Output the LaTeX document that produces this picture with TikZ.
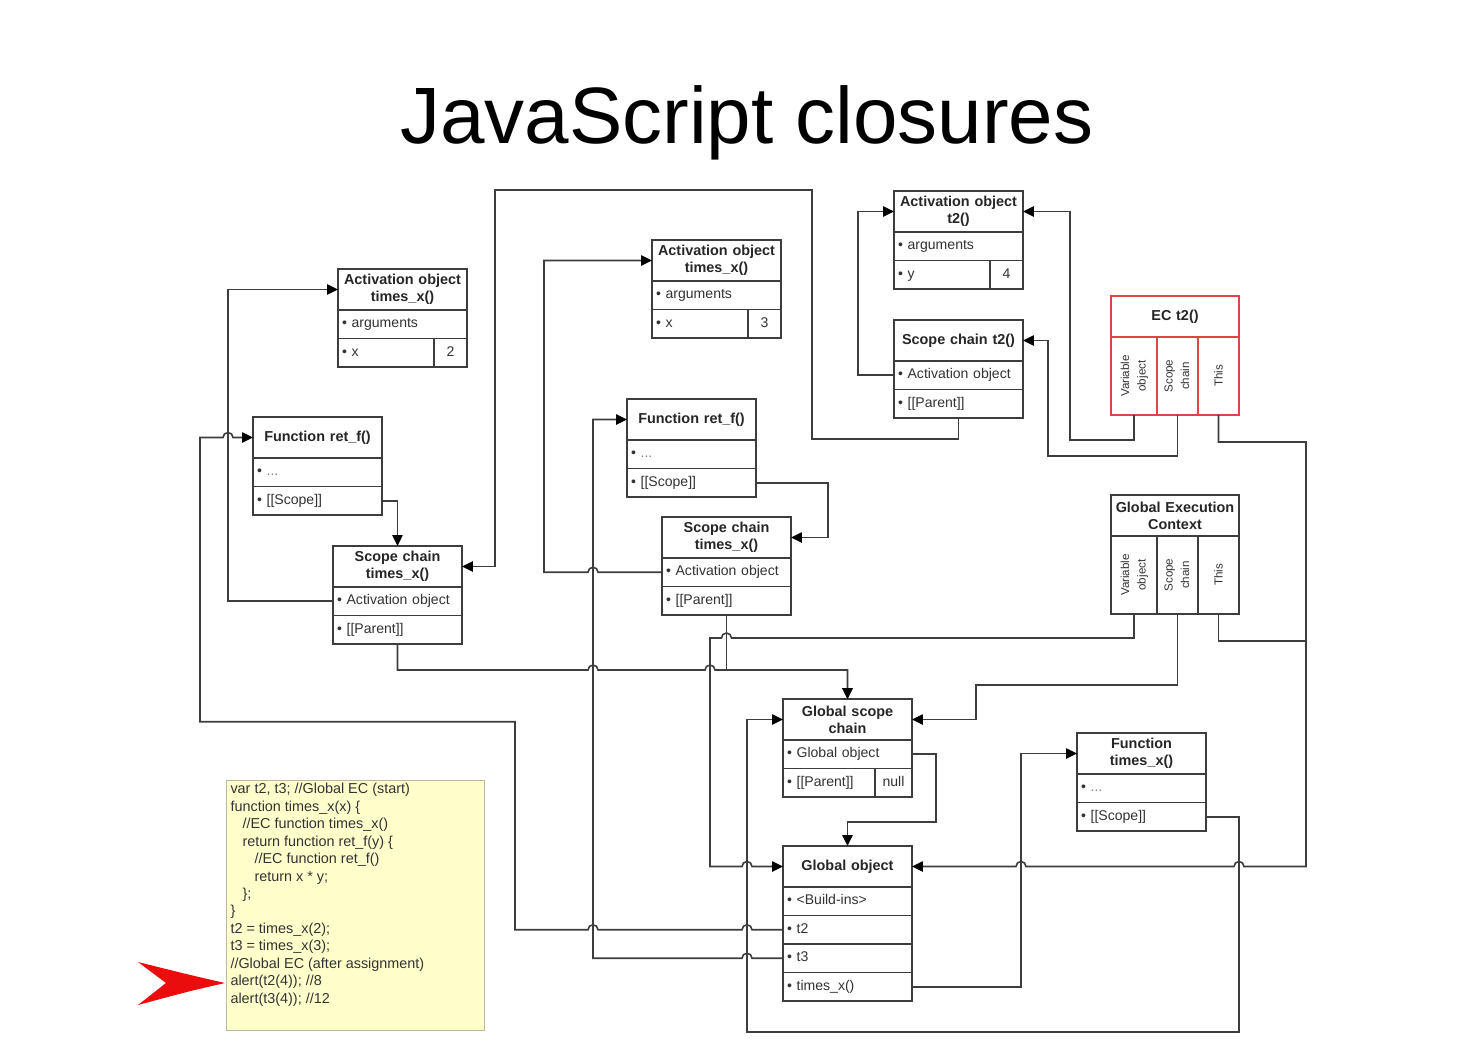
\documentclass[tikz,border=0pt]{standalone}
\usepackage{fontspec}
\setmainfont{Liberation Sans}
\newfontfamily\titlefont{Liberation Sans}
\usepackage{graphicx}
\usepackage{xcolor}
\usepackage{tikz}
\usetikzlibrary{arrows.meta,positioning,calc}
\definecolor{linecolor}{rgb}{0.24,0.24,0.24}
\definecolor{txtcolor}{rgb}{0.2,0.2,0.2}
\definecolor{ecred}{rgb}{0.88,0.27,0.27}
\definecolor{codefill}{rgb}{1.0,1.0,0.80}
\definecolor{codeline}{rgb}{0.72,0.72,0.64}
\definecolor{arrowred}{rgb}{0.92,0.05,0.05}
\newcommand{\hdrfont}{\fontsize{8.2}{9.6}\selectfont\bfseries}
\newcommand{\rowfont}{\fontsize{8}{9.6}\selectfont}
\newcommand{\colfont}{\fontsize{6.6}{9.4}\selectfont}
\newcommand{\codefont}{\fontsize{8.2}{9.92}\selectfont}

\begin{document}
\begin{tikzpicture}[
  x=0.02cm, y=0.02cm,
  hdr/.style={draw=linecolor, line width=.9pt, outer sep=0pt, fill=white,
              minimum width=2.58cm, minimum height=0.82cm, text width=2.5cm,
              align=center, inner sep=0pt, font=\hdrfont, text=black!85, anchor=north west},
  row/.style={draw=linecolor, line width=.9pt, outer sep=0pt, fill=white,
              minimum width=2.58cm, minimum height=0.57cm, text width=2.42cm,
              align=left, inner xsep=0.08cm, inner ysep=0pt, text height=6.2pt,
              text depth=2pt, font=\rowfont, text=txtcolor},
  cell/.style={row, minimum width=1.92cm, text width=1.76cm, anchor=north west},
  val/.style={draw=linecolor, line width=.9pt, outer sep=0pt, minimum width=0.66cm,
              minimum height=0.57cm, inner sep=0pt, text height=6.2pt, text depth=2pt,
              font=\rowfont, text=txtcolor, anchor=north west},
  col/.style={draw=linecolor, line width=.9pt, outer sep=0pt, minimum width=0.82cm,
              minimum height=1.56cm, inner sep=0pt, font=\colfont, text=txtcolor,
              anchor=north west},
  link/.style={draw=linecolor, line width=.9pt,
               -{Triangle[length=6.2pt,width=5.8pt,color=black]}},
  wire/.style={draw=linecolor, line width=.9pt},
  code/.style={draw=codeline, fill=codefill, line width=.6pt, inner xsep=0.08cm,
               inner ysep=0.06cm, anchor=north west, font=\codefont, text=txtcolor}
]
\fill[white] (0,0) rectangle (1467,-1055);

% Title
\node[font=\titlefont\fontsize{45.5}{50}\selectfont, anchor=base] (title) at (747,-143) {JavaScript closures};

% Activation object times_x() (x = 2)
\node[hdr] (aoL) at (338,-269) {Activation object\\times\_x()};
\node[row, below=0pt of aoL] (aoLargs) {\textbullet{} arguments};
\node[cell] (aoLx) at (aoLargs.south west) {\textbullet{} x};
\node[val] (aoLxv) at (aoLx.north east) {2};

% Activation object times_x() (x = 3)
\node[hdr] (aoM) at (652,-240) {Activation object\\times\_x()};
\node[row, below=0pt of aoM] (aoMargs) {\textbullet{} arguments};
\node[cell] (aoMx) at (aoMargs.south west) {\textbullet{} x};
\node[val] (aoMxv) at (aoMx.north east) {3};

% Activation object t2()
\node[hdr] (aoT) at (894,-191) {Activation object\\t2()};
\node[row, below=0pt of aoT] (aoTargs) {\textbullet{} arguments};
\node[cell] (aoTy) at (aoTargs.south west) {\textbullet{} y};
\node[val] (aoTyv) at (aoTy.north east) {4};

% Scope chain t2()
\node[hdr] (scT) at (894,-320) {Scope chain t2()};
\node[row, below=0pt of scT] (scTact) {\textbullet{} Activation object};
\node[row, below=0pt of scTact] (scTpar) {\textbullet{} [[Parent]]};

% EC t2()
\node[hdr, draw=ecred, minimum width=2.56cm] (ecT) at (1111,-296) {EC t2()};
\node[col, draw=ecred, minimum width=0.92cm] (ecTvo) at (ecT.south west)
  {\rotatebox{90}{\begin{tabular}{@{}c@{}}Variable\\object\end{tabular}}};
\node[col, draw=ecred] (ecTsc) at (ecTvo.north east)
  {\rotatebox{90}{\begin{tabular}{@{}c@{}}Scope\\chain\end{tabular}}};
\node[col, draw=ecred] (ecTth) at (ecTsc.north east) {\rotatebox{90}{This}};

% Function ret_f() (left)
\node[hdr] (rfL) at (253,-417) {Function ret\_f()};
\node[row, below=0pt of rfL] (rfLdots) {\textbullet{} \textcolor{gray}{...}};
\node[row, below=0pt of rfLdots] (rfLscope) {\textbullet{} [[Scope]]};

% Scope chain times_x() (left)
\node[hdr] (scL) at (333,-546) {Scope chain\\times\_x()};
\node[row, below=0pt of scL] (scLact) {\textbullet{} Activation object};
\node[row, below=0pt of scLact] (scLpar) {\textbullet{} [[Parent]]};

% Function ret_f() (middle)
\node[hdr] (rfM) at (627,-399) {Function ret\_f()};
\node[row, below=0pt of rfM] (rfMdots) {\textbullet{} \textcolor{gray}{...}};
\node[row, below=0pt of rfMdots] (rfMscope) {\textbullet{} [[Scope]]};

% Scope chain times_x() (middle)
\node[hdr] (scM) at (662,-517) {Scope chain\\times\_x()};
\node[row, below=0pt of scM] (scMact) {\textbullet{} Activation object};
\node[row, below=0pt of scMact] (scMpar) {\textbullet{} [[Parent]]};

% Global Execution Context
\node[hdr, minimum width=2.56cm] (gec) at (1111,-495) {Global Execution\\Context};
\node[col, minimum width=0.92cm] (gecvo) at (gec.south west)
  {\rotatebox{90}{\begin{tabular}{@{}c@{}}Variable\\object\end{tabular}}};
\node[col] (gecsc) at (gecvo.north east)
  {\rotatebox{90}{\begin{tabular}{@{}c@{}}Scope\\chain\end{tabular}}};
\node[col] (gecth) at (gecsc.north east) {\rotatebox{90}{This}};

% Global scope chain
\node[hdr] (gsc) at (783,-699) {Global scope\\chain};
\node[row, below=0pt of gsc] (gscobj) {\textbullet{} Global object};
\node[cell, minimum width=1.84cm, text width=1.68cm] (gscpar) at (gscobj.south west) {\textbullet{} [[Parent]]};
\node[val, minimum width=0.74cm] (gscnull) at (gscpar.north east) {null};

% Global object
\node[hdr] (gob) at (783,-846) {Global object};
\node[row, below=0pt of gob] (gobbi) {\textbullet{} <Build-ins>};
\node[row, below=0pt of gobbi] (gobt2) {\textbullet{} t2};
\node[row, below=0pt of gobt2] (gobt3) {\textbullet{} t3};
\node[row, below=0pt of gobt3] (gobtx) {\textbullet{} times\_x()};

% Function times_x()
\node[hdr] (ftx) at (1077,-733) {Function\\times\_x()};
\node[row, below=0pt of ftx] (ftxdots) {\textbullet{} \textcolor{gray}{...}};
\node[row, below=0pt of ftxdots] (ftxscope) {\textbullet{} [[Scope]]};

% Source code
\node[code] (code) at (226,-780) {\parbox[t][4.88cm][t]{5.0cm}{\raggedright
var t2, t3; //Global EC (start)\\
function times\_x(x) \{\\
\hspace*{0.24cm}//EC function times\_x()\\
\hspace*{0.24cm}return function ret\_f(y) \{\\
\hspace*{0.48cm}//EC function ret\_f()\\
\hspace*{0.48cm}return x * y;\\
\hspace*{0.24cm}\};\\
\}\\
t2 = times\_x(2);\\
t3 = times\_x(3);\\
//Global EC (after assignment)\\
alert(t2(4)); //8\\
alert(t3(4)); //12}};

% Current line marker
\fill[arrowred] (225,-983) .. controls (190,-975) .. (138,-962)
  .. controls (152,-973) .. (166,-983) .. controls (152,-993) .. (138,-1005)
  .. controls (190,-991) .. (225,-983) -- cycle;

% Links of times_x(2)
\draw[link] (scLact.west) -- ++(-105,0) |- (aoL.west);
\draw[link] (rfLscope.east) -| (scL.north);
\draw[link] (gobt2.west) -- ++(-31,0) arc[start angle=0,end angle=180,radius=5]
  -- ++(-144,0) arc[start angle=0,end angle=180,radius=5] -- ++(-73,0) -- ++(0,208)
  -- ++(-315,0) |- ($(rfL.west)+(-30,0)$) arc[start angle=180,end angle=0,radius=5] -- (rfL.west);

% Links of times_x(3)
\draw[link] (gobt3.west) -- ++(-31,0) arc[start angle=0,end angle=180,radius=5]
  -- ++(-149,0) |- (rfM.west);
\draw[link] (rfMscope.east) -- ++(72,0) |- (scM.east);
\draw[link] (scMact.west) -- ++(-64,0) arc[start angle=0,end angle=180,radius=5]
  -- ++(-44,0) |- (aoM.west);

% Links of t2(4)
\draw[link] (scTact.west) -- ++(-36,0) |- (aoT.west);
\draw[link] (scTpar.south) -- ++(0,-21) -| (812,-190) -- (495,-190) |- (scL.east);
\draw[link] (ecTvo.south) |- (1070,-440) |- (aoT.east);
\draw[link] (ecTsc.south) |- (1048,-456) |- (scT.east);
\draw[link] (ecTth.south) |- (1306,-442) |- ($(gob.east)+(332,0)$)
  arc[start angle=0,end angle=180,radius=5] -- ++(-208,0)
  arc[start angle=0,end angle=180,radius=5] -- (gob.east);

% Links of the global context
\draw[link] (gecvo.south) |- ($(scMpar.south)+(5,-23)$) arc[start angle=0,end angle=180,radius=5]
  -- (710,-638) |- ($(gob.west)+(-41,0)$) arc[start angle=180,end angle=0,radius=5] -- (gob.west);
\draw[link] (gecsc.south) |- (976,-685) |- (gsc.east);
\draw[wire] (gecth.south) |- (1306,-641);
\draw[link] (scLpar.south) -- ++(0,-26) -- (588,-670) arc[start angle=180,end angle=0,radius=5]
  -- (705,-670) arc[start angle=180,end angle=0,radius=5] -| (gsc.north);
\draw[link] (scMpar.south) -- ++(0,-55) -| (gsc.north);
\draw[link] (gscobj.east) -- ++(24,0) |- ($(gob.north)+(0,24)$) -- (gob.north);
\draw[link] (gobtx.east) -- ++(109,0) |- (ftx.west);
\draw[link] (ftxscope.east) -- ++(33,0) |- (747,-1032) |- (gsc.west);
\end{tikzpicture}
\end{document}
